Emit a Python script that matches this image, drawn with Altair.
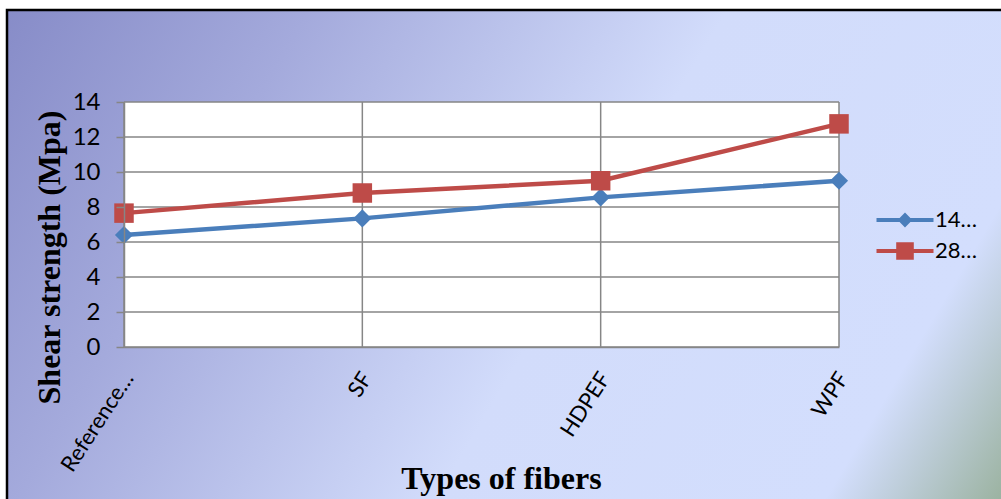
import altair as alt
import pandas as pd

# Shear strength by fiber type, for two curing ages
categories = ["Reference…", "SF", "HDPEF", "WPF"]
series_names = ["14…", "28…"]
strength_14 = [6.4, 7.35, 8.55, 9.5]
strength_28 = [7.65, 8.8, 9.5, 12.75]
y_ticks = [0, 2, 4, 6, 8, 10, 12, 14]

colors = ["#4a7ebb", "#be4b48"]
grid_color = "#868686"

rows = []
for cat, v in zip(categories, strength_14):
    rows.append({"fiber": cat, "series": series_names[0], "value": v})
for cat, v in zip(categories, strength_28):
    rows.append({"fiber": cat, "series": series_names[1], "value": v})
df = pd.DataFrame(rows)

W, H = 715, 245

x_scale = alt.Scale(type="point", padding=0, domain=categories)
y_scale = alt.Scale(domain=[0, 14], nice=False)

x_enc = alt.X(
    "fiber:N",
    sort=categories,
    scale=x_scale,
    axis=alt.Axis(
        title="Types of fibers",
        labelAngle=-57,
        labelAlign="right",
        labelBaseline="middle",
        labelPadding=27,
        labelOffset=4,
        labelFont="Lato",
        labelFontSize=22,
        labelColor="black",
        labelOverlap=False,
        labelLimit=0,
        ticks=False,
        domainColor=grid_color,
        domainWidth=1.5,
        grid=False,
        titleFont="Liberation Serif",
        titleFontSize=32,
        titleFontWeight="bold",
        titleColor="black",
        titleX=377,
        titleY=141,
        titleAlign="center",
        titleBaseline="alphabetic",
        zindex=1,
    ),
)
y_enc = alt.Y(
    "value:Q",
    scale=y_scale,
    axis=alt.Axis(
        title="Shear strength (Mpa)",
        values=y_ticks,
        labelFont="Lato",
        labelFontSize=24,
        labelColor="black",
        labelOverlap=False,
        labelPadding=16,
        tickSize=8,
        tickColor=grid_color,
        tickWidth=1.5,
        domainColor=grid_color,
        domainWidth=1.5,
        grid=False,
        titleFont="Liberation Serif",
        titleFontSize=32,
        titleFontWeight="bold",
        titleColor="black",
        titleAngle=270,
        titleX=-75,
        titleY=155,
        titleAlign="center",
        titleBaseline="middle",
        zindex=1,
    ),
)

legend = alt.Legend(
    title=None,
    orient="none",
    legendX=752,
    legendY=107,
    symbolSize=400,
    symbolOffset=18,
    symbolStrokeWidth=0,
    labelOffset=19,
    labelFont="Lato",
    labelFontSize=22,
    labelColor="black",
    labelLimit=0,
    rowPadding=9,
    padding=0,
)
color_scale = alt.Scale(domain=series_names, range=colors)
color_enc = alt.Color("series:N", scale=color_scale, legend=legend)

# Chart background panel with a diagonal gradient and a dark frame
background = alt.Chart(alt.Data(values=[{}])).mark_rect(
    fill=alt.Gradient(
        gradient="linear",
        x1=0, y1=0, x2=1.3, y2=0.39,
        stops=[
            alt.GradientStop(offset=0, color="#878cc8"),
            alt.GradientStop(offset=0.21, color="#a4aadc"),
            alt.GradientStop(offset=0.5, color="#d2dcfb"),
            alt.GradientStop(offset=0.77, color="#d3defd"),
            alt.GradientStop(offset=0.9, color="#98b09b"),
            alt.GradientStop(offset=1, color="#8ca68e"),
        ],
    ),
    stroke="black",
    strokeWidth=2.5,
).encode(
    x=alt.value(-117), x2=alt.value(900),
    y=alt.value(-92), y2=alt.value(420),
)

plot_bg = alt.Chart(alt.Data(values=[{}])).mark_rect(fill="white").encode(
    x=alt.value(0), x2=alt.value(W), y=alt.value(0), y2=alt.value(H)
)

# Gridlines share the axis definitions so the axes merge cleanly
hgrid = alt.Chart(pd.DataFrame({"value": y_ticks})).mark_rule(
    color=grid_color, strokeWidth=1.5
).encode(y=y_enc)

vgrid = alt.Chart(pd.DataFrame({"fiber": categories})).mark_rule(
    color=grid_color, strokeWidth=1.5
).encode(x=x_enc)

base = alt.Chart(df)

lines = base.mark_line(strokeWidth=4.5).encode(x=x_enc, y=y_enc, color=color_enc)

diamonds = base.transform_filter(
    alt.datum.series == series_names[0]
).mark_point(shape="diamond", filled=True, size=330, opacity=1).encode(
    x=x_enc, y=y_enc, color=color_enc
)
squares = base.transform_filter(
    alt.datum.series == series_names[1]
).mark_point(shape="square", filled=True, size=380, opacity=1).encode(
    x=x_enc, y=y_enc, color=color_enc
)

# Legend symbols: a line segment with the series marker in its middle
diamond_line = ("M-2.85,-0.21L-0.54,-0.21L0,-0.75L0.54,-0.21L2.85,-0.21"
                "L2.85,0.21L0.54,0.21L0,0.75L-0.54,0.21L-2.85,0.21Z")
square_line = ("M-2.85,-0.21L-0.88,-0.21L-0.88,-0.88L0.88,-0.88L0.88,-0.21"
               "L2.85,-0.21L2.85,0.21L0.88,0.21L0.88,0.88L-0.88,0.88"
               "L-0.88,0.21L-2.85,0.21Z")
legend_layer = base.transform_filter("false").mark_point(
    filled=True, opacity=1
).encode(
    x=x_enc, y=y_enc, color=color_enc,
    shape=alt.Shape("series:N",
                    scale=alt.Scale(domain=series_names,
                                    range=[diamond_line, square_line]),
                    legend=legend),
)

chart = alt.layer(
    background, plot_bg, hgrid, vgrid, lines, diamonds, squares, legend_layer
).properties(
    width=W, height=H,
    autosize=alt.AutoSizeParams(type="none"),
    padding={"left": 124, "top": 102, "right": 162, "bottom": 152},
    background="white",
).configure_view(stroke=None, fill=None)

chart.save("out.html", embed_options={"renderer": "svg", "actions": False})
